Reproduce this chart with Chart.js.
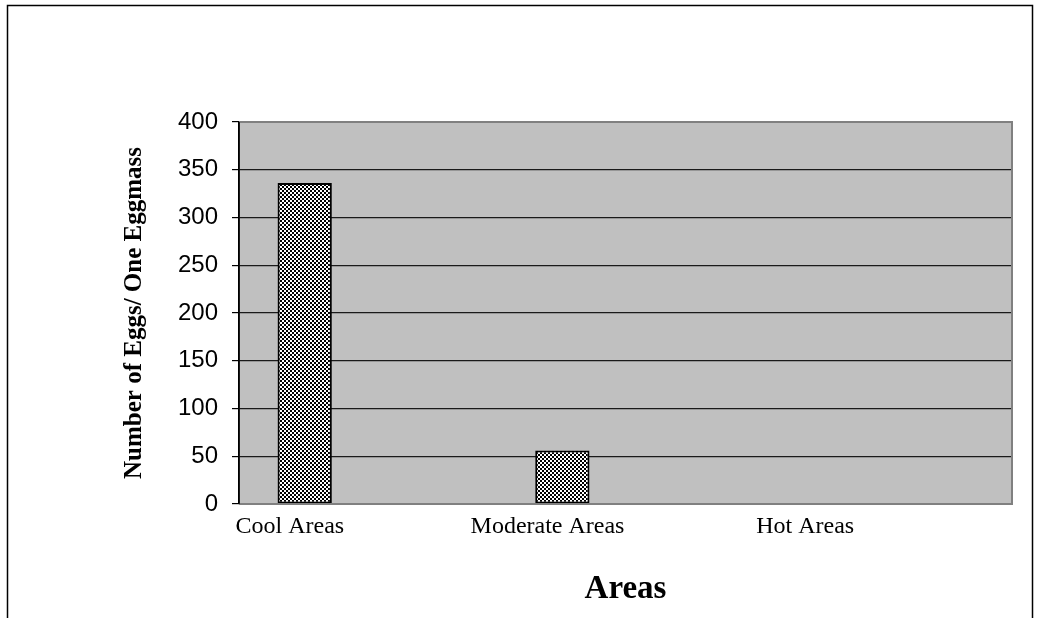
<!DOCTYPE html>
<html>
<head>
<meta charset="utf-8">
<script src="https://cdn.jsdelivr.net/npm/chart.js@4.4.1/dist/chart.umd.min.js"></script>
<style>
  html, body { margin: 0; padding: 0; background: #fff; }
  #wrap { width: 1042px; height: 618px; }
</style>
</head>
<body>
<div id="wrap"><canvas id="c" width="1042" height="618"></canvas></div>
<script>
// Egg counts per egg mass by area
const categories = ['Cool Areas', 'Moderate Areas', 'Hot Areas'];
const eggsPerMass = [336, 56, 0];
const secondSeries = [null, null, null];
const yTicks = [0, 50, 100, 150, 200, 250, 300, 350, 400];

// Black and white checkerboard fill for the bars
function checkerPattern() {
  const p = document.createElement('canvas');
  p.width = 4; p.height = 4;
  const g = p.getContext('2d');
  g.fillStyle = '#fff';
  g.fillRect(0, 0, 4, 4);
  g.fillStyle = '#000';
  g.fillRect(0, 0, 2, 2);
  g.fillRect(2, 2, 2, 2);
  return g.createPattern(p, 'repeat');
}

// White page, outer frame and grey plot background
const framePlugin = {
  id: 'frame',
  beforeDraw(chart) {
    const ctx = chart.ctx;
    const a = chart.chartArea;
    ctx.save();
    ctx.fillStyle = '#fff';
    ctx.fillRect(0, 0, chart.width, chart.height);
    ctx.strokeStyle = '#000';
    ctx.lineWidth = 1.5;
    ctx.strokeRect(7.5, 5.5, 1025, 700);
    ctx.fillStyle = '#c0c0c0';
    ctx.fillRect(a.left, a.top, a.right - a.left, a.bottom - a.top);
    ctx.restore();
  },
  afterDatasetsDraw(chart) {
    const ctx = chart.ctx;
    const a = chart.chartArea;
    ctx.save();
    ctx.strokeStyle = '#808080';
    ctx.lineWidth = 2;
    ctx.beginPath();
    ctx.moveTo(a.left, a.top);
    ctx.lineTo(a.right, a.top);
    ctx.lineTo(a.right, a.bottom);
    ctx.lineTo(a.left, a.bottom);
    ctx.stroke();
    ctx.strokeStyle = '#000';
    ctx.lineWidth = 1.5;
    ctx.beginPath();
    ctx.moveTo(a.left, a.top);
    ctx.lineTo(a.left, a.bottom);
    ctx.stroke();
    ctx.restore();
  }
};

new Chart(document.getElementById('c'), {
  type: 'bar',
  data: {
    labels: categories,
    datasets: [
      {
        label: 'Number of Eggs',
        data: eggsPerMass,
        backgroundColor: checkerPattern(),
        borderColor: '#000',
        borderWidth: 2,
        borderSkipped: false,
        categoryPercentage: 0.98,
        barPercentage: 0.43
      },
      {
        label: 'Series 2',
        data: secondSeries,
        backgroundColor: '#fff',
        borderColor: '#000',
        borderWidth: 2,
        categoryPercentage: 0.98,
        barPercentage: 0.43
      }
    ]
  },
  options: {
    responsive: false,
    animation: false,
    layout: { padding: { left: 0, right: 30, top: 122, bottom: 0 } },
    plugins: {
      legend: { display: false },
      tooltip: { enabled: false }
    },
    scales: {
      x: {
        grid: { display: false, drawTicks: false },
        border: { display: false },
        ticks: {
          color: '#000',
          font: { family: 'Liberation Serif', size: 24 },
          padding: 8,
          labelOffset: -78,
          maxRotation: 0,
          autoSkip: false
        },
        title: {
          display: true,
          text: 'Areas',
          color: '#000',
          font: { family: 'Liberation Serif', size: 33, weight: 'bold' },
          padding: { top: 0, bottom: 9 }
        },
        afterFit(s) { s.height = 114; }
      },
      y: {
        min: 0,
        max: 400,
        afterBuildTicks(s) { s.ticks = yTicks.map(v => ({ value: v })); },
        grid: {
          color: ctx => (ctx.tick && ctx.tick.value === 400 ? '#808080' : '#1a1a1a'),
          lineWidth: 1.2,
          tickLength: 7,
          tickColor: '#000',
          drawTicks: true
        },
        border: { display: true, color: '#000', width: 1.5 },
        ticks: {
          color: '#000',
          font: { family: 'Liberation Sans', size: 24 },
          padding: 14
        },
        title: {
          display: true,
          text: 'Number of Eggs/ One Eggmass',
          color: '#000',
          font: { family: 'Liberation Serif', size: 25, weight: 'bold' },
          padding: { top: 120, bottom: 0 }
        },
        afterFit(s) { s.width = 239; }
      }
    }
  },
  plugins: [framePlugin]
});
</script>
</body>
</html>
